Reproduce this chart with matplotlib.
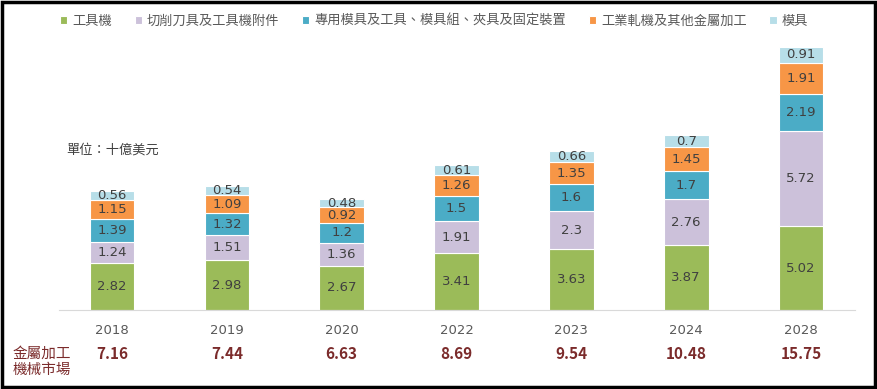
import matplotlib.pyplot as plt
import numpy as np
from matplotlib.patches import Rectangle

plt.rcParams['font.family'] = ['Noto Sans CJK TC', 'DejaVu Sans']

years = ['2018', '2019', '2020', '2022', '2023', '2024', '2028']
series_names = ['工具機', '切削刀具及工具機附件', '專用模具及工具、模具組、夾具及固定裝置',
                '工業軋機及其他金屬加工', '模具']
machine_tools = [2.82, 2.98, 2.67, 3.41, 3.63, 3.87, 5.02]
cutting_tools = [1.24, 1.51, 1.36, 1.91, 2.3, 2.76, 5.72]
special_dies = [1.39, 1.32, 1.2, 1.5, 1.6, 1.7, 2.19]
rolling_mills = [1.15, 1.09, 0.92, 1.26, 1.35, 1.45, 1.91]
molds = [0.56, 0.54, 0.48, 0.61, 0.66, 0.7, 0.91]
totals = ['7.16', '7.44', '6.63', '8.69', '9.54', '10.48', '15.75']
colors = ['#9BBB59', '#CCC1DA', '#4BACC6', '#F79646', '#B7DEE8']

fig = plt.figure(figsize=(8.77, 3.89), dpi=100)
ax = fig.add_axes([0.0673, 0.203, 0.9076, 0.686])

x = np.arange(len(years))
bottom = np.zeros(len(years))
for name, vals, c in zip(series_names,
                         [machine_tools, cutting_tools, special_dies, rolling_mills, molds],
                         colors):
    vals = np.array(vals)
    ax.bar(x, vals, 0.39, bottom=bottom, color=c, edgecolor='white',
           linewidth=0.8, label=name)
    for xi, b, v in zip(x, bottom, vals):
        ax.text(xi, b + v / 2, f'{v:g}', ha='center', va='center',
                fontsize=9.5, color='#404040', family='DejaVu Sans')
    bottom += vals

ax.set_xlim(-0.462, 6.47)
ax.set_ylim(0, 16)
ax.set_yticks([])
for s in ['top', 'right', 'left']:
    ax.spines[s].set_visible(False)
ax.spines['bottom'].set_color('#D9D9D9')
ax.set_xticks(x)
ax.set_xticklabels(years, fontsize=9.5, color='#595959', family='DejaVu Sans')
ax.tick_params(axis='x', length=0, pad=10)

# totals row
for xi, t in zip(x, totals):
    ax.text(xi, -0.165, t, transform=ax.get_xaxis_transform(), ha='center', va='center',
            fontsize=11, fontweight='bold', color='#7B2B2B')
fig.text(0.014, 0.032, '金屬加工\n機械市場', fontsize=10.5, color='#7B2B2B',
         ha='left', va='bottom', linespacing=1.15)

fig.text(0.076, 0.615, '單位：十億美元', fontsize=9.5, color='#404040', va='center')

fig.legend(loc='center', bbox_to_anchor=(0.495, 0.945), ncol=5, frameon=False,
           fontsize=9.5, handlelength=0.55, handleheight=0.55, handletextpad=0.4,
           columnspacing=1.7, labelcolor='#595959')

fig.patches.append(Rectangle((0.002, 0.004), 0.996, 0.99, transform=fig.transFigure,
                             fill=False, edgecolor='black', linewidth=2.5))

fig.savefig('out.png', dpi=100)
